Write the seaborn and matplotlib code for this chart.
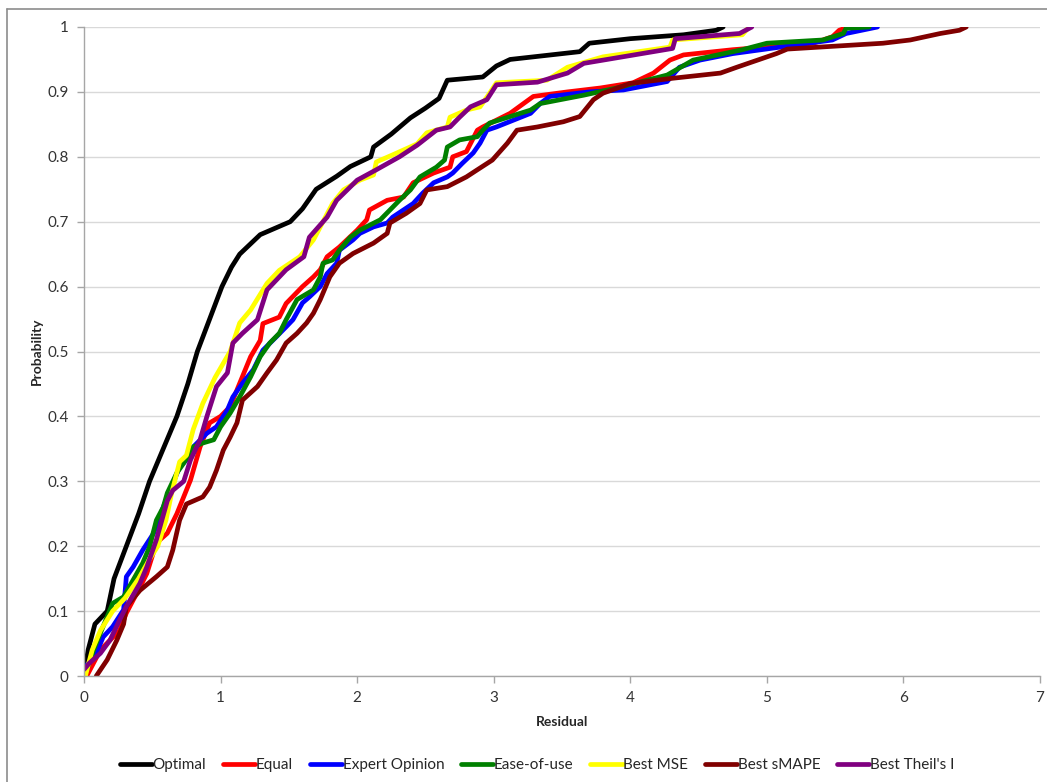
import pandas as pd
import seaborn as sns
import matplotlib.pyplot as plt
from matplotlib.lines import Line2D
from matplotlib.ticker import FuncFormatter

# Series names and colours (Excel default-ish palette)
names = ['Optimal', 'Equal', 'Expert Opinion', 'Ease-of-use', 'Best MSE', 'Best sMAPE', "Best Theil's I"]
colors = ['#000000', '#FF0000', '#0000FF', '#008000', '#FFFF00', '#800000', '#800080']

# Residual / probability pairs
optimal_x = [0.0, 0.03, 0.08, 0.17, 0.22, 0.31, 0.4, 0.48, 0.58, 0.68, 0.76, 0.83, 0.92, 1.01, 1.08, 1.14,
             1.29, 1.4, 1.51, 1.6, 1.7, 1.85, 1.95, 2.1, 2.12, 2.25, 2.39, 2.5, 2.6, 2.66, 2.92, 3.02, 3.12,
             3.63, 3.7, 4.0, 4.39, 4.63, 4.68]
optimal_y = [0.0, 0.04, 0.08, 0.1, 0.15, 0.2, 0.25, 0.3, 0.35, 0.4, 0.45, 0.5, 0.55, 0.6, 0.63, 0.65,
             0.68, 0.69, 0.7, 0.72, 0.75, 0.77, 0.785, 0.8, 0.815, 0.835, 0.86, 0.875, 0.89, 0.918, 0.923, 0.94, 0.95,
             0.962, 0.975, 0.982, 0.988, 0.995, 1.0]

equal_x = [0.02, 0.12, 0.19, 0.26, 0.31, 0.41, 0.46, 0.53, 0.61, 0.68, 0.78, 0.85, 0.92, 1.0, 1.07, 1.14,
           1.22, 1.29, 1.31, 1.43, 1.48, 1.6, 1.68, 1.73, 1.78, 1.87, 2.0, 2.07, 2.09, 2.22, 2.34, 2.41, 2.56,
           2.68, 2.7, 2.8, 2.88, 2.92, 3.12, 3.29, 3.54, 3.78, 4.02, 4.17, 4.29, 4.39, 4.75, 5.34, 5.48, 5.53, 5.6]
equal_y = [0.0, 0.04, 0.055, 0.07, 0.097, 0.137, 0.158, 0.205, 0.22, 0.25, 0.302, 0.353, 0.39, 0.4, 0.415, 0.451,
           0.492, 0.517, 0.543, 0.553, 0.574, 0.6, 0.615, 0.626, 0.646, 0.661, 0.687, 0.703, 0.718, 0.733, 0.738, 0.76, 0.775,
           0.784, 0.8, 0.808, 0.841, 0.846, 0.867, 0.893, 0.9, 0.906, 0.914, 0.929, 0.949, 0.957, 0.965, 0.975, 0.985, 0.995, 1.0]

expert_x = [0.01, 0.09, 0.14, 0.21, 0.29, 0.31, 0.36, 0.43, 0.51, 0.58, 0.7, 0.75, 0.8, 0.9, 0.97, 1.05,
            1.09, 1.16, 1.24, 1.31, 1.41, 1.48, 1.53, 1.6, 1.65, 1.73, 1.78, 1.85, 1.87, 1.97, 2.02, 2.12, 2.22,
            2.26, 2.41, 2.48, 2.56, 2.66, 2.7, 2.77, 2.85, 2.9, 2.95, 3.02, 3.27, 3.34, 3.41, 3.7, 3.95, 4.27,
            4.36, 4.51, 4.75, 5.48, 5.58, 5.81]
expert_y = [0.014, 0.035, 0.06, 0.076, 0.102, 0.153, 0.168, 0.194, 0.22, 0.26, 0.322, 0.333, 0.353, 0.374, 0.384, 0.41,
            0.43, 0.451, 0.472, 0.502, 0.523, 0.538, 0.549, 0.575, 0.584, 0.6, 0.62, 0.636, 0.656, 0.672, 0.682, 0.692, 0.698,
            0.707, 0.728, 0.744, 0.76, 0.769, 0.775, 0.79, 0.806, 0.821, 0.841, 0.846, 0.867, 0.882, 0.893, 0.9, 0.903, 0.916,
            0.938, 0.949, 0.959, 0.98, 0.99, 1.0]

ease_x = [0.02, 0.07, 0.12, 0.21, 0.29, 0.36, 0.43, 0.48, 0.53, 0.58, 0.61, 0.68, 0.73, 0.8, 0.87, 0.95,
          1.0, 1.07, 1.14, 1.22, 1.29, 1.36, 1.43, 1.48, 1.56, 1.68, 1.73, 1.75, 1.82, 1.87, 1.95, 2.02, 2.17,
          2.24, 2.31, 2.39, 2.46, 2.58, 2.64, 2.66, 2.75, 2.88, 2.92, 2.97, 3.27, 3.34, 3.66, 3.9, 4.27, 4.46,
          4.82, 5.0, 5.41, 5.56, 5.58, 5.75]
ease_y = [0.009, 0.04, 0.066, 0.112, 0.122, 0.148, 0.174, 0.199, 0.24, 0.26, 0.282, 0.313, 0.328, 0.353, 0.359, 0.364,
          0.384, 0.405, 0.43, 0.461, 0.492, 0.513, 0.528, 0.549, 0.58, 0.595, 0.615, 0.636, 0.641, 0.656, 0.676, 0.687, 0.703,
          0.718, 0.733, 0.749, 0.769, 0.784, 0.795, 0.815, 0.826, 0.831, 0.841, 0.852, 0.872, 0.882, 0.895, 0.906, 0.926, 0.949,
          0.965, 0.975, 0.98, 0.99, 0.998, 1.0]

mse_x = [0.01, 0.06, 0.12, 0.21, 0.3, 0.4, 0.48, 0.54, 0.6, 0.64, 0.7, 0.75, 0.8, 0.87, 0.96, 1.07, 1.14,
         1.22, 1.34, 1.43, 1.58, 1.68, 1.73, 1.82, 1.9, 2.02, 2.12, 2.14, 2.26, 2.44, 2.51, 2.66, 2.68, 2.8,
         2.9, 2.97, 3.02, 3.39, 3.54, 3.8, 4.29, 4.31, 4.82, 4.87]
mse_y = [0.0, 0.04, 0.07, 0.1, 0.12, 0.15, 0.18, 0.2, 0.24, 0.28, 0.33, 0.34, 0.38, 0.42, 0.46, 0.5, 0.544,
         0.564, 0.605, 0.625, 0.646, 0.672, 0.692, 0.728, 0.749, 0.764, 0.772, 0.792, 0.803, 0.82, 0.837, 0.846, 0.861, 0.872,
         0.877, 0.898, 0.914, 0.918, 0.938, 0.954, 0.969, 0.98, 0.988, 1.0]

smape_x = [0.09, 0.17, 0.24, 0.29, 0.31, 0.41, 0.53, 0.61, 0.65, 0.7, 0.75, 0.87, 0.92, 0.97, 1.02, 1.07,
           1.12, 1.16, 1.27, 1.34, 1.41, 1.48, 1.56, 1.63, 1.68, 1.73, 1.8, 1.87, 1.97, 2.12, 2.22, 2.24, 2.36,
           2.46, 2.51, 2.66, 2.8, 2.88, 2.99, 3.1, 3.17, 3.32, 3.51, 3.63, 3.73, 3.8, 4.0, 4.31, 4.66, 4.78,
           5.07, 5.15, 5.85, 6.05, 6.27, 6.41, 6.46]
smape_y = [0.0, 0.025, 0.055, 0.08, 0.107, 0.132, 0.153, 0.168, 0.194, 0.24, 0.265, 0.276, 0.291, 0.317, 0.348, 0.368,
           0.39, 0.425, 0.446, 0.467, 0.487, 0.513, 0.528, 0.544, 0.559, 0.58, 0.615, 0.636, 0.651, 0.667, 0.682, 0.698, 0.713,
           0.728, 0.749, 0.754, 0.769, 0.78, 0.795, 0.821, 0.841, 0.846, 0.854, 0.862, 0.888, 0.898, 0.913, 0.921, 0.929, 0.938,
           0.959, 0.966, 0.975, 0.98, 0.99, 0.995, 1.0]

theil_x = [0.0, 0.04, 0.12, 0.19, 0.26, 0.31, 0.41, 0.46, 0.53, 0.61, 0.65, 0.73, 0.78, 0.85, 0.9, 0.97,
           1.05, 1.09, 1.16, 1.27, 1.34, 1.48, 1.61, 1.65, 1.78, 1.85, 2.0, 2.14, 2.31, 2.44, 2.58, 2.68, 2.75,
           2.83, 2.95, 3.02, 3.32, 3.54, 3.66, 4.31, 4.33, 4.8, 4.89]
theil_y = [0.01, 0.02, 0.035, 0.055, 0.086, 0.107, 0.143, 0.168, 0.21, 0.27, 0.286, 0.3, 0.333, 0.364, 0.4, 0.446,
           0.467, 0.513, 0.528, 0.549, 0.595, 0.626, 0.646, 0.676, 0.707, 0.733, 0.764, 0.78, 0.8, 0.818, 0.841, 0.846, 0.861,
           0.877, 0.888, 0.911, 0.915, 0.929, 0.944, 0.967, 0.982, 0.99, 1.0]

series_x = [optimal_x, equal_x, expert_x, ease_x, mse_x, smape_x, theil_x]
series_y = [optimal_y, equal_y, expert_y, ease_y, mse_y, smape_y, theil_y]

sns.set_style('white')
plt.rcParams['font.family'] = ['Lato', 'DejaVu Sans']

fig = plt.figure(figsize=(10.47, 7.82), dpi=100)
ax = fig.add_axes([84 / 1047, 1 - 676 / 782, 956 / 1047, 649 / 782])

for name, color, xs, ys in zip(names, colors, series_x, series_y):
    df = pd.DataFrame({'Residual': xs, 'Probability': ys})
    sns.lineplot(data=df, x='Residual', y='Probability', sort=False, estimator=None,
                 color=color, lw=3.4, label=name, ax=ax)

ax.set_xlim(0, 7)
ax.set_ylim(0, 1)
ax.set_xticks(range(0, 8))
ax.set_yticks([i / 10 for i in range(11)])
ax.yaxis.set_major_formatter(FuncFormatter(lambda v, p: '{:g}'.format(round(v, 1))))
ax.grid(axis='y', color='#d9d9d9', lw=1)
ax.grid(axis='x', visible=False)
for side in ['top', 'right']:
    ax.spines[side].set_visible(False)
for side in ['left', 'bottom']:
    ax.spines[side].set_color('#a6a6a6')
    ax.spines[side].set_linewidth(1)
ax.tick_params(axis='both', which='major', direction='out', length=5, width=1, color='#a6a6a6',
               labelsize=11, labelcolor='#333333', left=True, bottom=True, pad=6)

ax.set_xlabel('Residual', fontsize=10, fontweight='bold', labelpad=8)
ax.set_ylabel('Probability', fontsize=10, fontweight='bold', labelpad=3)

ax.legend(loc='upper center', bbox_to_anchor=(0.474, -0.105), ncol=7, frameon=False,
          fontsize=11, handlelength=2.1, handletextpad=0.05, columnspacing=1.1)

# chart area border (left and top edges visible in the original)
fig.add_artist(Line2D([7 / 1047, 7 / 1047], [0, 1 - 9 / 782], color='#8c8c8c', lw=1.2))
fig.add_artist(Line2D([7 / 1047, 1], [1 - 9 / 782, 1 - 9 / 782], color='#8c8c8c', lw=1.2))

fig.savefig('out.png', dpi=100)
